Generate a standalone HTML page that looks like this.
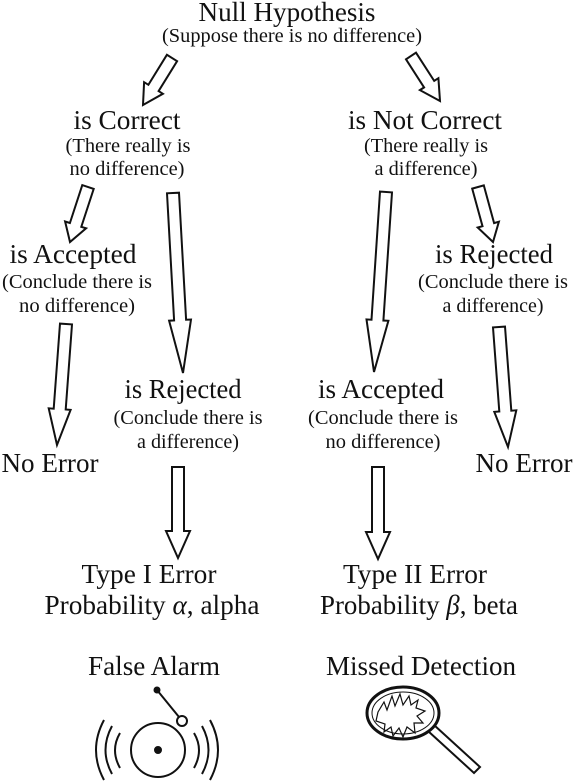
<!DOCTYPE html>
<html><head><meta charset="utf-8"><style>
html,body{margin:0;padding:0;background:#fff;width:575px;height:782px;overflow:hidden}
text{font-family:"Liberation Serif",serif;fill:#111;text-anchor:middle}
.b{font-size:27px}.s{font-size:20px}
</style></head><body>
<svg id="s" width="575" height="782" viewBox="0 0 575 782" xmlns="http://www.w3.org/2000/svg">
<text class="b" x="287" y="21" textLength="177" lengthAdjust="spacingAndGlyphs">Null Hypothesis</text>
<text class="s" x="292" y="42" textLength="260" lengthAdjust="spacingAndGlyphs">(Suppose there is no difference)</text>

<text class="b" x="127" y="129" textLength="107" lengthAdjust="spacingAndGlyphs">is Correct</text>
<text class="s" x="128" y="152" textLength="125" lengthAdjust="spacingAndGlyphs">(There really is</text>
<text class="s" x="127" y="175" textLength="115" lengthAdjust="spacingAndGlyphs">no difference)</text>

<text class="b" x="425" y="129" textLength="154" lengthAdjust="spacingAndGlyphs">is Not Correct</text>
<text class="s" x="426" y="152" textLength="124" lengthAdjust="spacingAndGlyphs">(There really is</text>
<text class="s" x="426" y="175" textLength="103" lengthAdjust="spacingAndGlyphs">a difference)</text>

<text class="b" x="73" y="263" textLength="127" lengthAdjust="spacingAndGlyphs">is Accepted</text>
<text class="s" x="77" y="288" textLength="150" lengthAdjust="spacingAndGlyphs">(Conclude there is</text>
<text class="s" x="77" y="312" textLength="116" lengthAdjust="spacingAndGlyphs">no difference)</text>

<text class="b" x="494" y="263" textLength="118" lengthAdjust="spacingAndGlyphs">is Rejected</text>
<text class="s" x="493" y="288" textLength="150" lengthAdjust="spacingAndGlyphs">(Conclude there is</text>
<text class="s" x="493" y="312" textLength="101" lengthAdjust="spacingAndGlyphs">a difference)</text>

<text class="b" x="183" y="398" textLength="117" lengthAdjust="spacingAndGlyphs">is Rejected</text>
<text class="s" x="188" y="424" textLength="149" lengthAdjust="spacingAndGlyphs">(Conclude there is</text>
<text class="s" x="188" y="448" textLength="102" lengthAdjust="spacingAndGlyphs">a difference)</text>

<text class="b" x="381" y="398" textLength="126" lengthAdjust="spacingAndGlyphs">is Accepted</text>
<text class="s" x="383" y="424" textLength="150" lengthAdjust="spacingAndGlyphs">(Conclude there is</text>
<text class="s" x="383" y="448" textLength="115" lengthAdjust="spacingAndGlyphs">no difference)</text>

<text class="b" x="50" y="472" textLength="97" lengthAdjust="spacingAndGlyphs">No Error</text>
<text class="b" x="524" y="472" textLength="97" lengthAdjust="spacingAndGlyphs">No Error</text>

<text class="b" x="149" y="583" textLength="135" lengthAdjust="spacingAndGlyphs">Type I Error</text>
<text class="b" x="152" y="614" textLength="215" lengthAdjust="spacingAndGlyphs">Probability <tspan font-style="italic">α</tspan>, alpha</text>
<text class="b" x="415" y="583" textLength="144" lengthAdjust="spacingAndGlyphs">Type II Error</text>
<text class="b" x="419" y="614" textLength="198" lengthAdjust="spacingAndGlyphs">Probability <tspan font-style="italic">β</tspan>, beta</text>

<text class="b" x="154" y="675" textLength="132" lengthAdjust="spacingAndGlyphs">False Alarm</text>
<text class="b" x="421" y="675" textLength="190" lengthAdjust="spacingAndGlyphs">Missed Detection</text>

<g fill="none" stroke="#111" stroke-width="2">
<circle cx="158" cy="750" r="27"/>
<circle cx="158" cy="750" r="3" fill="#111"/>
<line x1="157" y1="690" x2="179" y2="717"/>
<circle cx="157" cy="690" r="2.5" fill="#111"/>
<circle cx="182" cy="721" r="5" fill="#fff"/>
<path d="M120 733 Q110 750 120 768"/><path d="M112 726 Q99 750 112 774"/><path d="M104 720 Q88 750 104 780"/>
<path d="M194 733 Q204 750 194 768"/><path d="M202 726 Q215 750 202 774"/><path d="M210 720 Q226 750 210 780"/>
<ellipse cx="403" cy="713" rx="36" ry="26" stroke-width="3"/>
<ellipse cx="403" cy="713" rx="31" ry="21" stroke-width="1"/>
<path d="M378 712 l6 -10 3 8 5 -14 3 10 5 -12 3 11 6 -9 2 9 7 -5 -2 8 9 3 -8 5 6 7 -9 0 1 10 -8 -6 -4 10 -4 -9 -6 8 -2 -9 -7 5 1 -8 -9 -3z" stroke-width="1.2"/>
<path d="M428 731 L474 773 L480 767 L434 725" stroke-width="2"/>
</g>
<g id="arr" fill="#fff" stroke="#111" stroke-width="2" stroke-linejoin="miter"></g>
</svg>
<script>
function arrow(x1,y1,x2,y2,w,h,L){
 var dx=x2-x1,dy=y2-y1,len=Math.hypot(dx,dy),ux=dx/len,uy=dy/len,px=-uy,py=ux;
 var bx=x2-ux*L,by=y2-uy*L;
 var pts=[[x1+px*w,y1+py*w],[bx+px*w,by+py*w],[bx+px*h,by+py*h],[x2,y2],[bx-px*h,by-py*h],[bx-px*w,by-py*w],[x1-px*w,y1-py*w]];
 var p=document.createElementNS("http://www.w3.org/2000/svg","polygon");
 p.setAttribute("points",pts.map(function(a){return a[0].toFixed(1)+","+a[1].toFixed(1)}).join(" "));
 document.getElementById("arr").appendChild(p);
}
arrow(172,58,143,105,6,11,20);
arrow(411,56,440,101,6,11,20);
arrow(88,187,70,242,6,11,18);
arrow(478,187,493,242,6,11,18);
arrow(173,193,183,373,6,11,53);
arrow(386,192,374,372,6,11,52);
arrow(66,324,57,445,6,11,36);
arrow(499,327,508,447,6,11,36);
arrow(178,467,178,558,6,12,27);
arrow(378,467,378,559,6,12,27);
</script>
</body></html>
